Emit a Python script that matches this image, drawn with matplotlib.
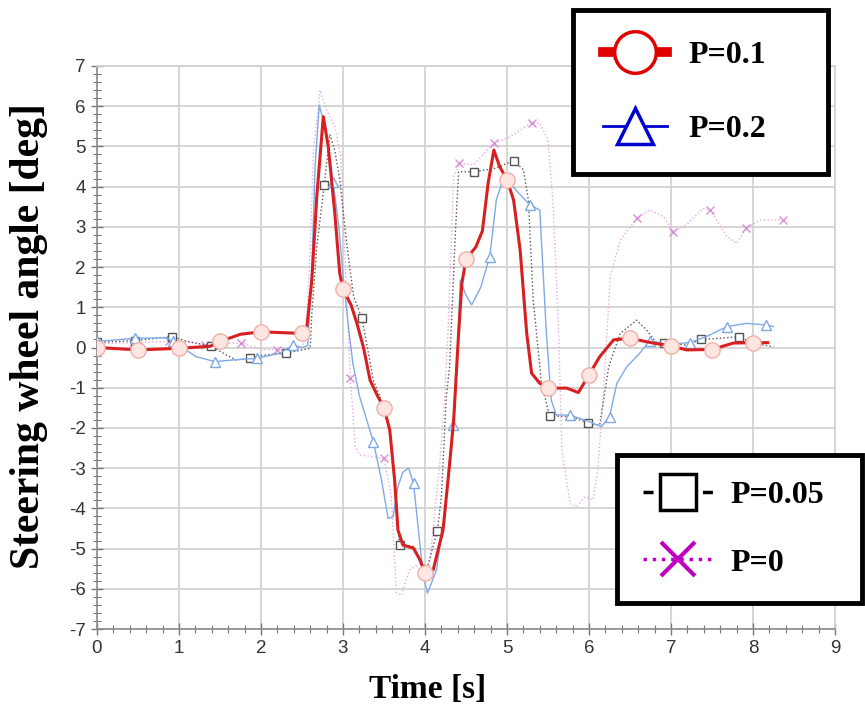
import numpy as np
import matplotlib
matplotlib.use('Agg')
import matplotlib.pyplot as plt
from matplotlib.lines import Line2D
from matplotlib.ticker import MultipleLocator

plt.rcParams['axes.unicode_minus'] = False

# ── data ────────────────────────────────────────────────────────────────────
# P=0.1 (red, circles)
red_t = [0, 0.5, 1.0, 1.38, 1.5, 1.75, 2.0, 2.5, 2.56, 2.62, 2.68, 2.76, 2.82, 2.9, 2.96,
         3.0, 3.1, 3.17, 3.25, 3.33, 3.42, 3.5, 3.57, 3.63, 3.67, 3.73, 3.86, 3.94, 4.0,
         4.1, 4.22, 4.3, 4.35, 4.41, 4.45, 4.5, 4.62, 4.7, 4.77, 4.84, 4.91, 5.0, 5.08,
         5.16, 5.24, 5.3, 5.4, 5.5, 5.73, 5.87, 6.0, 6.13, 6.3, 6.5, 6.78, 7.0, 7.19,
         7.5, 7.76, 8.0, 8.18]
red_y = [0.0, -0.06, -0.02, 0.03, 0.15, 0.33, 0.39, 0.35, 0.52, 1.68, 3.75, 5.74, 5.0,
         3.34, 1.85, 1.45, 1.05, 0.6, 0.0, -0.81, -1.2, -1.5, -2.05, -3.3, -4.54, -4.91,
         -4.99, -5.29, -5.6, -5.53, -4.54, -2.9, -1.8, 0.36, 1.6, 2.19, 2.5, 2.9, 4.09,
         4.91, 4.5, 4.17, 3.67, 2.43, 0.36, -0.64, -0.89, -1.01, -1.01, -1.12, -0.68,
         -0.23, 0.19, 0.23, 0.11, 0.04, -0.06, -0.05, 0.11, 0.12, 0.12]
red_mk_t = [0, 0.5, 1.0, 1.5, 2.0, 2.5, 3.0, 3.5, 4.0, 4.5, 5.0, 5.5, 6.0, 6.5, 7.0, 7.5, 8.0]
red_mk_y = [0.0, -0.06, -0.02, 0.15, 0.39, 0.35, 1.45, -1.5, -5.6, 2.19, 4.17, -1.01,
            -0.68, 0.23, 0.04, -0.05, 0.12]

# P=0.2 (blue, triangles)
blue_t = [0, 0.46, 0.85, 1.0, 1.21, 1.44, 1.66, 1.95, 2.23, 2.39, 2.5, 2.57, 2.62, 2.66,
          2.71, 2.78, 2.88, 2.95, 3.0, 3.07, 3.12, 3.2, 3.37, 3.47, 3.55, 3.61, 3.67,
          3.73, 3.8, 3.86, 3.92, 3.98, 4.03, 4.14, 4.24, 4.34, 4.39, 4.43, 4.5, 4.57,
          4.68, 4.79, 4.87, 4.95, 5.07, 5.28, 5.4, 5.48, 5.54, 5.6, 5.77, 6.01, 6.15,
          6.25, 6.34, 6.46, 6.62, 6.74, 6.91, 7.07, 7.23, 7.43, 7.68, 7.92, 8.16, 8.25]
blue_y = [0.15, 0.23, 0.24, 0.05, -0.23, -0.35, -0.31, -0.27, -0.14, 0.06, 0.0, 0.05,
          2.0, 4.5, 6.03, 5.5, 4.12, 3.0, 1.8, 0.44, -0.39, -1.2, -2.34, -3.3, -4.25,
          -4.21, -3.46, -3.1, -3.0, -3.38, -4.54, -5.7, -6.11, -5.53, -4.12, -1.93,
          -0.39, 1.68, 1.3, 1.06, 1.5, 2.26, 3.67, 4.17, 4.0, 3.54, 3.42, 0.36, -1.31,
          -1.68, -1.68, -1.85, -1.97, -1.72, -0.89, -0.48, -0.14, 0.17, 0.1, 0.1, 0.12,
          0.27, 0.52, 0.6, 0.56, 0.52]
blue_mk_t = [0, 0.46, 0.93, 1.44, 1.95, 2.39, 2.88, 3.37, 3.86, 4.34, 4.79, 5.28, 5.77,
             6.25, 6.74, 7.23, 7.68, 8.16]
blue_mk_y = [0.15, 0.23, 0.15, -0.35, -0.27, 0.06, 4.12, -2.34, -3.38, -1.93, 2.26, 3.54,
             -1.68, -1.72, 0.17, 0.12, 0.52, 0.56]

# P=0.05 (black dotted, squares)
blk_t = [0, 0.46, 0.92, 1.1, 1.39, 1.58, 1.7, 1.86, 2.03, 2.3, 2.6, 2.62, 2.68, 2.77,
         2.84, 2.9, 2.96, 3.05, 3.13, 3.23, 3.37, 3.45, 3.57, 3.63, 3.69, 3.86, 4.02,
         4.15, 4.2, 4.26, 4.3, 4.37, 4.41, 4.6, 4.87, 5.08, 5.2, 5.26, 5.32, 5.42, 5.52,
         5.77, 5.99, 6.13, 6.24, 6.38, 6.58, 6.7, 6.83, 6.91, 7.19, 7.37, 7.6, 7.83,
         8.0, 8.25]
blk_y = [0.13, 0.17, 0.27, 0.15, 0.04, -0.19, -0.31, -0.27, -0.19, -0.14, -0.02, 0.85,
         2.5, 4.03, 5.3, 4.9, 4.17, 2.5, 1.26, 0.74, -0.81, -1.22, -2.05, -3.5, -4.9,
         -4.95, -5.53, -4.56, -3.71, -1.22, -0.48, 2.84, 4.37, 4.37, 4.46, 4.65, 4.42,
         3.67, 1.18, -0.89, -1.7, -1.72, -1.87, -1.93, -0.48, 0.35, 0.68, 0.44, 0.1,
         0.12, 0.06, 0.2, 0.23, 0.27, 0.1, 0.02]
blk_mk_t = [0, 0.46, 0.92, 1.39, 1.86, 2.3, 2.77, 3.23, 3.69, 4.15, 4.6, 5.08, 5.52,
            5.99, 6.91, 7.37, 7.83]
blk_mk_y = [0.13, 0.17, 0.27, 0.04, -0.27, -0.14, 4.03, 0.74, -4.9, -4.56, 4.37, 4.65,
            -1.7, -1.87, 0.12, 0.2, 0.27]

# P=0 (pink dotted, crosses)
pink_t = [0, 0.44, 0.88, 1.1, 1.32, 1.55, 1.76, 2.0, 2.2, 2.5, 2.55, 2.6, 2.64, 2.72,
          2.8, 2.9, 2.97, 3.03, 3.09, 3.15, 3.21, 3.5, 3.59, 3.65, 3.71, 3.81, 3.94,
          4.05, 4.18, 4.24, 4.28, 4.35, 4.43, 4.59, 4.84, 5.04, 5.3, 5.4, 5.5, 5.56,
          5.63, 5.67, 5.77, 5.85, 5.95, 6.05, 6.11, 6.17, 6.26, 6.38, 6.58, 6.74, 6.91,
          7.03, 7.19, 7.39, 7.48, 7.68, 7.8, 7.92, 8.09, 8.37]
pink_y = [0.1, 0.12, 0.15, 0.15, 0.05, 0.1, 0.12, -0.05, -0.06, 0.0, 0.3, 2.5, 4.9, 6.4,
          5.9, 5.5, 4.8, 2.0, -0.77, -2.47, -2.67, -2.76, -3.71, -6.11, -6.16, -5.53,
          -5.37, -5.5, -2.88, -1.22, 0.44, 4.25, 4.58, 4.54, 5.08, 5.24, 5.59, 5.58,
          5.16, 3.67, 0.35, -2.55, -3.88, -3.96, -3.71, -3.79, -2.97, -1.31, 1.76, 2.67,
          3.21, 3.42, 3.25, 2.88, 3.05, 3.46, 3.42, 2.76, 2.59, 2.97, 3.17, 3.17]
pink_mk_t = [0.44, 0.88, 1.32, 1.76, 2.2, 3.09, 3.5, 4.41, 4.84, 5.3, 6.58, 7.03, 7.48,
             7.92, 8.37]
pink_mk_y = [0.12, 0.15, 0.05, 0.12, -0.06, -0.77, -2.76, 4.58, 5.08, 5.59, 3.21, 2.88,
             3.42, 2.97, 3.17]

labels = ['P=0.1', 'P=0.2', 'P=0.05', 'P=0']

# ── figure ──────────────────────────────────────────────────────────────────
fig = plt.figure(figsize=(8.65, 7.24), dpi=100)
ax = fig.add_axes([97 / 865, 1 - 629 / 724, 738 / 865, 563 / 724])

ax.plot(pink_t, pink_y, color='#e8a8e8', lw=1.0, ls=':', zorder=2)
ax.plot(pink_mk_t, pink_mk_y, ls='none', marker='x', ms=6, mec='#d890d8', mew=1.0, zorder=2)

ax.plot(blk_t, blk_y, color='#555555', lw=1.0, ls=':', zorder=3)
ax.plot(blk_mk_t, blk_mk_y, ls='none', marker='s', ms=6, mfc='white', mec='#555555',
        mew=1.0, zorder=3)

ax.plot(blue_t, blue_y, color='#80aae6', lw=1.0, zorder=4)
ax.plot(blue_mk_t, blue_mk_y, ls='none', marker='^', ms=7, mfc='white', mec='#7fa8e2',
        mew=1.0, zorder=4)

ax.plot(red_t, red_y, color='#d82020', lw=2.2, zorder=5)
ax.plot(red_mk_t, red_mk_y, ls='none', marker='o', ms=11, mfc='#fde6e2', mec='#f0b0a8',
        mew=1.0, zorder=6)

ax.set_xlim(0, 9)
ax.set_ylim(-7, 7)
ax.set_xticks(range(0, 10))
ax.set_yticks(range(-7, 8))
ax.xaxis.set_minor_locator(MultipleLocator(0.2))
ax.yaxis.set_minor_locator(MultipleLocator(0.2))
ax.tick_params(which='major', direction='inout', length=9, width=1.0, color='#777777',
               labelsize=13.5, labelcolor='#333333')
ax.tick_params(which='minor', direction='inout', length=6, width=0.8, color='#777777')
for lab in ax.get_xticklabels() + ax.get_yticklabels():
    lab.set_family('Liberation Sans')
ax.grid(which='major', color='#d2d2d2', lw=1.3)
ax.set_axisbelow(True)
for side in ['left', 'bottom']:
    ax.spines[side].set_color('#8a8a8a')
    ax.spines[side].set_linewidth(1.2)
for side in ['top', 'right']:
    ax.spines[side].set_color('#d2d2d2')
    ax.spines[side].set_linewidth(1.3)

fig.text(428 / 865, 1 - 690 / 724, 'Time [s]', ha='center', va='center',
         family='Liberation Serif', weight='bold', fontsize=24)
fig.text(29 / 865, 1 - 336 / 724, 'Steering wheel angle [deg]', ha='center', va='center',
         rotation=90, family='Liberation Serif', weight='bold', fontsize=30)

# ── legends ─────────────────────────────────────────────────────────────────
h_red = Line2D([], [], color='#e00000', lw=7, marker='o', ms=30, mfc='white',
               mec='#e00000', mew=2.5)
h_blue = Line2D([], [], color='#0000d0', lw=2, marker='^', ms=26, mfc='white',
                mec='#0000d0', mew=2.5)
h_blk = Line2D([], [], color='black', lw=2.5, dashes=(2.9, 14.2), marker='s', ms=26,
               mfc='white', mec='black', mew=2.5)
h_pink = Line2D([], [], color='#c000c0', lw=2.5, ls=':', marker='x', ms=24,
                mec='#c000c0', mew=3)

leg_font = dict(family='Liberation Serif', weight='bold', size=23)
leg_kw = dict(loc='upper left', mode='expand', borderaxespad=0, prop=leg_font,
              fancybox=False, edgecolor='black', framealpha=1, numpoints=1)

leg1 = fig.legend([h_red, h_blue], labels[:2],
                  bbox_to_anchor=(573 / 865, 1 - 180 / 724, 255 / 865, 170 / 724),
                  handlelength=2.0, handletextpad=0.65, labelspacing=1.4, borderpad=0.95,
                  **leg_kw)
leg2 = fig.legend([h_blk, h_pink], labels[2:],
                  bbox_to_anchor=(617 / 865, 1 - 605 / 724, 245 / 865, 150 / 724),
                  handlelength=2.2, handletextpad=0.55, labelspacing=1.2, borderpad=0.8,
                  **leg_kw)
for leg in (leg1, leg2):
    leg.get_frame().set_linewidth(3.5)

fig.savefig('out.png', dpi=100)
plt.close(fig)
